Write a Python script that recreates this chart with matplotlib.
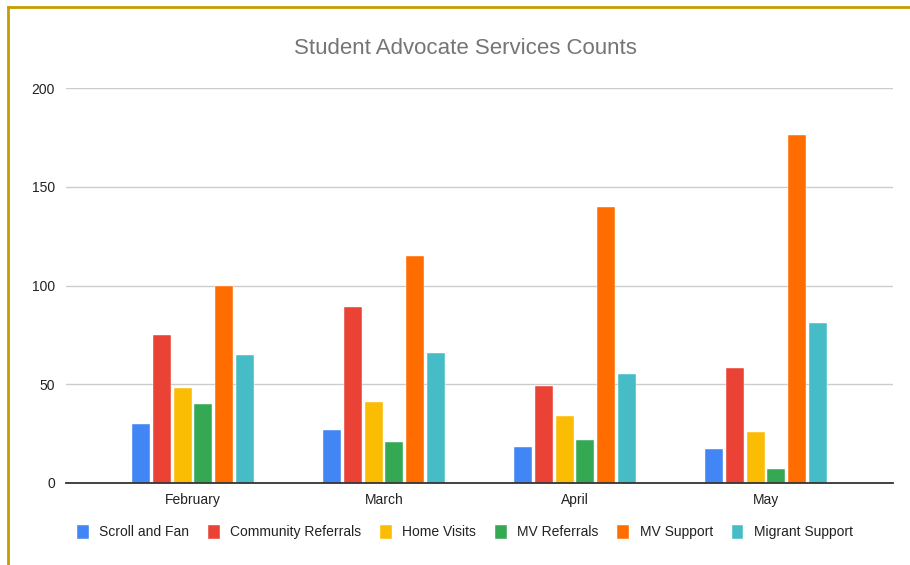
import matplotlib
matplotlib.use('Agg')
from matplotlib import pyplot as plt
from matplotlib.lines import Line2D
import numpy as np

plt.rcParams['font.family'] = ['Liberation Sans', 'DejaVu Sans']

# Data
months = ['February', 'March', 'April', 'May']
series = ['Scroll and Fan', 'Community Referrals', 'Home Visits',
          'MV Referrals', 'MV Support', 'Migrant Support']
scroll_fan = [30, 27, 18, 17]
community_referrals = [75, 89, 49, 58]
home_visits = [48, 41, 34, 26]
mv_referrals = [40, 21, 22, 7]
mv_support = [100, 115, 140, 176]
migrant_support = [65, 66, 55, 81]
colors = ['#4285f4', '#ea4335', '#fbbc04', '#34a853', '#ff6d01', '#46bdc6']

values = [scroll_fan, community_referrals, home_visits,
          mv_referrals, mv_support, migrant_support]

fig = plt.figure(figsize=(9.1, 5.65), dpi=100)
ax = fig.add_axes([66/910, 1 - 483/565, (893-66)/910, (483-88)/565])

x = np.arange(len(months))
step = 0.108
width = 0.094
for i, (name, vals) in enumerate(zip(series, values)):
    offs = (i - 2.5) * step
    ax.bar(x + offs, vals, width, color=colors[i], label=name, zorder=3,
           edgecolor='white', linewidth=0.3)

ax.set_xlim(-0.665, 3.665)
ax.set_ylim(0, 200)
ax.set_yticks([0, 50, 100, 150, 200])
ax.set_xticks(x)
ax.set_xticklabels(months)
ax.grid(axis='y', color='#cccccc', linewidth=1, zorder=0)
for s in ['top', 'right', 'left']:
    ax.spines[s].set_visible(False)
ax.spines['bottom'].set_color('#333333')
ax.spines['bottom'].set_linewidth(1.3)
ax.spines['bottom'].set_zorder(4)
ax.tick_params(axis='both', length=0, labelsize=10, colors='#222222')
ax.tick_params(axis='y', pad=8)
ax.tick_params(axis='x', pad=7)

fig.text(465/910, 1 - 48/565, 'Student Advocate Services Counts',
         ha='center', va='center', fontsize=16, color='#757575')

fig.legend(loc='center', bbox_to_anchor=(465/910, 1 - 532/565), ncol=6,
           frameon=False, fontsize=10, handlelength=0.85, handleheight=1.2,
           handletextpad=0.75, columnspacing=1.35, labelcolor='#222222')

# border
fig.add_artist(Line2D([7.5/910, 1], [1 - 6.5/565, 1 - 6.5/565],
                      transform=fig.transFigure, color='#c89b00', linewidth=2))
fig.add_artist(Line2D([7.5/910, 7.5/910], [0, 1 - 6.5/565],
                      transform=fig.transFigure, color='#c89b00', linewidth=2))

plt.savefig('out.png', dpi=100)
